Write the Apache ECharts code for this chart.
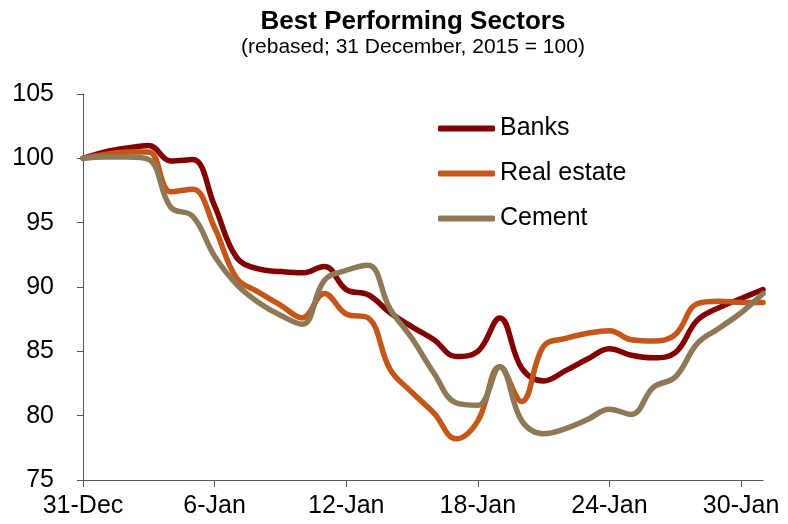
<!DOCTYPE html>
<html>
<head>
<meta charset="utf-8">
<script src="https://cdn.jsdelivr.net/npm/echarts@6/dist/echarts.min.js"></script>
<style>
  html, body { margin: 0; padding: 0; background: #fff; }
  #chart { width: 788px; height: 524px; }
</style>
</head>
<body>
<div id="chart"></div>
<script>
// 日期，31-Dec 到 31-Jan，每天一个点
var days = ['31-Dec']
for (var i = 1; i <= 31; i++) {
  days.push(i + '-Jan')
}

var banks = [100.0, 100.5, 100.8, 101.0, 99.8, 99.9, 96.3, 92.3, 91.4, 91.2,
  91.1, 91.6, 89.8, 89.4, 88.0, 86.9, 85.9, 84.6, 85.0, 87.6,
  83.7, 82.7, 83.5, 84.4, 85.2, 84.7, 84.5, 84.9, 87.4, 88.4,
  89.1, 89.8]

var realEstate = [100.0, 100.3, 100.5, 100.5, 97.4, 97.6, 94.6, 90.7, 89.6, 88.6,
  87.6, 89.5, 87.9, 87.6, 83.6, 81.8, 80.2, 78.2, 79.6, 83.8,
  81.1, 85.4, 86.0, 86.4, 86.6, 85.9, 85.8, 86.3, 88.7, 88.9,
  88.8, 88.8]

var cement = [100.0, 100.1, 100.1, 99.9, 96.2, 95.5, 92.4, 90.2, 88.8, 87.8,
  87.1, 90.5, 91.3, 91.7, 88.3, 86.0, 83.3, 81.0, 80.8, 83.8,
  79.6, 78.6, 79.0, 79.7, 80.5, 80.1, 82.2, 83.0, 85.6, 86.8,
  88.0, 89.5]

var seriesNames = ['Banks', 'Real estate', 'Cement']
var seriesColors = ['#820000', '#C5561A', '#8D7955']

var font = 'Liberation Sans, Arial, sans-serif'

function makeLine (idx, data) {
  return {
    name: seriesNames[idx],
    type: 'line',
    data: data,
    smooth: 0.4,
    symbol: 'none',
    color: seriesColors[idx],
    lineStyle: { width: 5.5, color: seriesColors[idx], cap: 'round', join: 'round' }
  }
}

var chart = echarts.init(document.getElementById('chart'))
chart.setOption({
  animation: false,
  backgroundColor: '#fff',
  title: {
    text: 'Best Performing Sectors',
    subtext: '(rebased; 31 December, 2015 = 100)',
    left: 408,
    textAlign: 'center',
    top: 4,
    itemGap: 2,
    textStyle: { fontFamily: font, fontSize: 26, fontWeight: 'bold', color: '#000' },
    subtextStyle: { fontFamily: font, fontSize: 21, color: '#000' }
  },
  legend: {
    orient: 'vertical',
    left: 433,
    top: 111,
    itemWidth: 57,
    itemHeight: 6,
    itemGap: 20,
    icon: 'roundRect',
    data: seriesNames,
    textStyle: { fontFamily: font, fontSize: 25, color: '#000', lineHeight: 25 }
  },
  grid: { left: 83, right: 25, top: 94, bottom: 44, containLabel: false },
  xAxis: {
    type: 'category',
    data: days,
    boundaryGap: false,
    axisLine: { show: true, lineStyle: { color: '#555', width: 1 } },
    axisTick: { show: true, interval: 5, length: 7, lineStyle: { color: '#555' } },
    axisLabel: { interval: 5, margin: 14, fontFamily: font, fontSize: 25, color: '#000' },
    splitLine: { show: false }
  },
  yAxis: {
    type: 'value',
    min: 75,
    max: 105,
    interval: 5,
    axisLine: { show: true, lineStyle: { color: '#555', width: 1 } },
    axisTick: { show: true, length: 6, lineStyle: { color: '#555' } },
    axisLabel: { margin: 29, fontFamily: font, fontSize: 25, color: '#000' },
    splitLine: { show: false }
  },
  series: [
    makeLine(0, banks),
    makeLine(1, realEstate),
    makeLine(2, cement)
  ]
})
</script>
</body>
</html>
